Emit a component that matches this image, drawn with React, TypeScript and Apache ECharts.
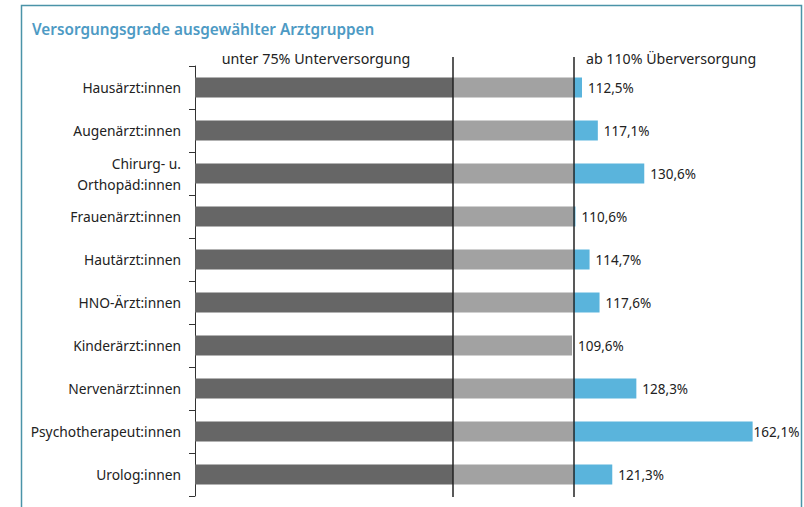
import React, { useEffect, useRef } from "react";
import * as echarts from "echarts";

const categories = [
  "Hausärzt:innen",
  "Augenärzt:innen",
  "Chirurg- u.\nOrthopäd:innen",
  "Frauenärzt:innen",
  "Hautärzt:innen",
  "HNO-Ärzt:innen",
  "Kinderärzt:innen",
  "Nervenärzt:innen",
  "Psychotherapeut:innen",
  "Urolog:innen",
];
const values = [112.5, 117.1, 130.6, 110.6, 114.7, 117.6, 109.6, 128.3, 162.1, 121.3];
const lowThreshold = 75;
const highThreshold = 110;
const title = "Versorgungsgrade ausgewählter Arztgruppen";
const lowLabel = "unter 75% Unterversorgung";
const highLabel = "ab 110% Überversorgung";

const fmt = (v: number) => v.toFixed(1).replace(".", ",") + "%";

export default function App() {
  const ref = useRef<HTMLDivElement>(null);
  useEffect(() => {
    if (!ref.current) return;
    const chart = echarts.init(ref.current, null, { renderer: "svg" });
    const font = "'Noto Sans', sans-serif";
    const seg1 = values.map((v) => Math.min(v, lowThreshold));
    const seg2 = values.map((v) => Math.max(Math.min(v, highThreshold) - lowThreshold, 0));
    const seg3 = values.map((v) => Math.max(v - highThreshold, 0));
    const xMax = 175;
    chart.setOption({
      animation: false,
      backgroundColor: "#ffffff",
      title: {
        text: title,
        left: 27,
        top: 16,
        textStyle: { fontFamily: font, fontSize: 15.3, fontWeight: 600, color: "#4d9ac4" },
      },
      graphic: [
        {
          type: "rect",
          shape: { x: 21.5, y: 5.5, width: 780, height: 540 },
          style: { fill: "none", stroke: "#4a93a8", lineWidth: 1.5 },
          silent: true,
        },
        {
          type: "text",
          x: 316,
          y: 58,
          style: {
            text: lowLabel,
            fontFamily: font,
            fontSize: 14.3,
            fill: "#222",
            align: "center",
            verticalAlign: "middle",
          },
        },
        {
          type: "text",
          x: 586,
          y: 58,
          style: {
            text: highLabel,
            fontFamily: font,
            fontSize: 14.2,
            fill: "#222",
            align: "left",
            verticalAlign: "middle",
          },
        },
      ],
      grid: [
        { left: 195, top: 66, height: 430, width: 602 },
        { left: 195, top: 57, height: 440, width: 602 },
      ],
      xAxis: [
        { type: "value", gridIndex: 0, min: 0, max: xMax, show: false },
        { type: "value", gridIndex: 1, min: 0, max: xMax, show: false },
      ],
      yAxis: [
        {
          type: "category",
          gridIndex: 0,
          data: categories,
          inverse: true,
          axisLine: { show: true, lineStyle: { color: "#333", width: 1 } },
          axisTick: { show: true, length: 6, lineStyle: { color: "#333" } },
          axisLabel: {
            fontFamily: font,
            fontSize: 13.8,
            color: "#222",
            margin: 14,
            lineHeight: 21,
            align: "right",
          },
        },
        { type: "value", gridIndex: 1, min: 0, max: 1, show: false },
      ],
      series: [
        {
          type: "bar",
          stack: "total",
          data: seg1,
          barWidth: 20,
          itemStyle: { color: "#666666" },
        },
        {
          type: "bar",
          stack: "total",
          data: seg2,
          barWidth: 20,
          itemStyle: { color: "#a2a2a2" },
        },
        {
          type: "bar",
          stack: "total",
          data: seg3,
          barWidth: 20,
          itemStyle: { color: "#5ab4dc" },
        },
        {
          type: "bar",
          data: values.map((v) => ({
            value: v,
            label: { distance: v > 150 ? 1 : 6 },
          })),
          barWidth: 20,
          barGap: "-100%",
          itemStyle: { color: "rgba(0,0,0,0)" },
          label: {
            show: true,
            position: "right",
            formatter: (p: any) => fmt(p.value),
            fontFamily: font,
            fontSize: 13.5,
            color: "#222",
          },
          silent: true,
        },
        {
          type: "line",
          xAxisIndex: 1,
          yAxisIndex: 1,
          data: [],
          z: 10,
          markLine: {
            silent: true,
            symbol: "none",
            label: { show: false },
            lineStyle: { color: "#222", width: 1.5, type: "solid" },
            data: [{ xAxis: lowThreshold }, { xAxis: highThreshold }],
          },
        },
      ],
    });
    return () => chart.dispose();
  }, []);
  return (
    <div
      ref={ref}
      style={{ position: "fixed", left: 0, top: 0, width: 804, height: 507 }}
    />
  );
}
